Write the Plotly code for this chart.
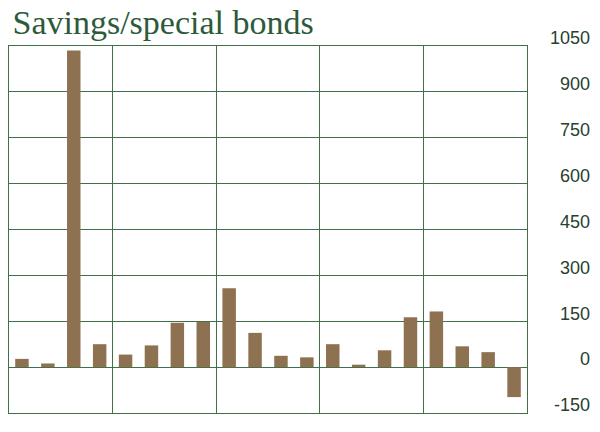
import plotly.graph_objects as go

# Savings/special bonds, 20 periods in 5 groups of 4
periods = list(range(1, 21))
values = [27, 12, 1035, 75, 41, 71, 145, 148, 258, 112,
          37, 32, 75, 8, 55, 163, 182, 68, 49, -98]
y_ticks = [-150, 0, 150, 300, 450, 600, 750, 900, 1050]
group_breaks = [4.5, 8.5, 12.5, 16.5]

grid_color = "#3f7048"
text_color = "#27402f"

fig = go.Figure()
fig.add_trace(go.Bar(
    x=periods,
    y=values,
    marker=dict(color="#8d7150", line=dict(width=0)),
    width=0.52,
    showlegend=False,
))
# dummy trace so the label axis gets drawn
fig.add_trace(go.Scatter(x=[periods[0]], y=[0], yaxis="y2", mode="markers",
                         marker=dict(opacity=0), showlegend=False, hoverinfo="skip"))

# page body has an 8px margin, so the figure is a bit smaller than the window
fig.update_layout(
    width=592, height=424,
    paper_bgcolor="white", plot_bgcolor="white",
    margin=dict(l=1, r=10, t=38, b=19, autoexpand=False),
    title=dict(text="Savings/special bonds", x=0.006, xref="paper", xanchor="left",
               y=0.995, yanchor="top", automargin=False, pad=dict(t=0, b=0),
               font=dict(family="Liberation Serif", size=34, color="#2c5a3a")),
    bargap=0.48,
    xaxis=dict(
        domain=[0, 0.8916],
        range=[0.5, 20.5],
        tickvals=group_breaks,
        showticklabels=False,
        ticks="",
        automargin=False,
        showgrid=True, gridcolor=grid_color, gridwidth=1.2,
        showline=True, linecolor=grid_color, linewidth=1.2, mirror=True,
        zeroline=False,
    ),
    yaxis=dict(
        range=[-150, 1050],
        tickvals=y_ticks,
        showticklabels=False,
        ticks="",
        automargin=False,
        showgrid=True, gridcolor=grid_color, gridwidth=1.2,
        showline=True, linecolor=grid_color, linewidth=1.2, mirror=True,
        zeroline=False,
    ),
    yaxis2=dict(
        overlaying="y",
        anchor="free",
        position=1.0,
        side="left",
        range=[-150, 1050],
        tickvals=y_ticks,
        ticktext=[str(v) for v in y_ticks],
        ticks="",
        automargin=False,
        showgrid=False, zeroline=False, showline=False,
        ticklabelshift=-8,
        ticklabelstandoff=0,
        tickfont=dict(family="Liberation Sans", size=18, color=text_color),
    ),
)

fig.write_html("out.html")
